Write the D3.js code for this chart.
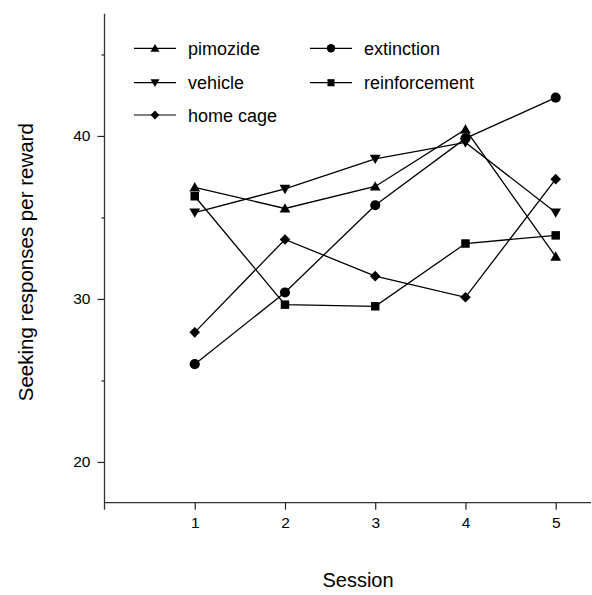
<!DOCTYPE html>
<html>
<head>
<meta charset="utf-8">
<script src="https://cdn.jsdelivr.net/npm/d3@7"></script>
<style>
  html, body { margin: 0; padding: 0; background: #fff; }
  svg { display: block; }
  text { font-family: Arial, "Liberation Sans", Helvetica, sans-serif; fill: #000; }
</style>
</head>
<body>
<script>
// ---- data ----
const sessions = [1, 2, 3, 4, 5];
const pimozide = [36.85, 35.55, 36.9, 40.4, 32.6];
const vehicle = [35.3, 36.75, 38.6, 39.6, 35.3];
const homeCage = [27.95, 33.65, 31.4, 30.1, 37.35];
const extinction = [26.0, 30.4, 35.75, 39.85, 42.35];
const reinforcement = [36.3, 29.65, 29.55, 33.4, 33.9];
const seriesNames = ["pimozide", "vehicle", "home cage", "extinction", "reinforcement"];
const yMajorTicks = [20, 30, 40];
const yMinorTicks = [25, 35, 45];
const xTitle = "Session";
const yTitle = "Seeking responses per reward";

const W = 592, H = 595;
const svg = d3.select("body").append("svg").attr("width", W).attr("height", H);

const x = d3.scaleLinear().domain([0, 5]).range([104.5, 555.7]);
const y = d3.scaleLinear().domain([17.5, 47.5]).range([502.7, 13.7]);

const shapes = {
  "pimozide": { type: d3.symbolTriangle, size: 50, rot: 0, dy: 1 },
  "vehicle": { type: d3.symbolTriangle, size: 50, rot: 180, dy: -1 },
  "home cage": { type: d3.symbolSquare, size: 56, rot: 45, dy: 0 },
  "extinction": { type: d3.symbolCircle, size: 80, rot: 0, dy: 0 },
  "reinforcement": { type: d3.symbolSquare, size: 72, rot: 0, dy: 0 }
};
const seriesData = {
  "pimozide": pimozide,
  "vehicle": vehicle,
  "home cage": homeCage,
  "extinction": extinction,
  "reinforcement": reinforcement
};

// ---- axes ----
const gy = svg.append("g").attr("transform", `translate(${x(0)},0)`);
gy.call(d3.axisLeft(y).tickValues(yMajorTicks).tickSize(7).tickPadding(7).tickFormat(d3.format("d")));
gy.select(".domain").remove();
gy.selectAll(".tick line").attr("stroke", "#222").attr("stroke-width", 1.2);
gy.selectAll(".tick text").style("font-size", "15.5px").attr("font-family", "Arial, 'Liberation Sans', sans-serif");
const gy2 = svg.append("g").attr("transform", `translate(${x(0)},0)`);
gy2.call(d3.axisLeft(y).tickValues(yMinorTicks).tickSize(3).tickFormat(""));
gy2.select(".domain").remove();
gy2.selectAll(".tick line").attr("stroke", "#222").attr("stroke-width", 1.2);

svg.append("line")
  .attr("x1", x(0)).attr("x2", x(0))
  .attr("y1", y(47.5)).attr("y2", y(17.5) + 7)
  .attr("stroke", "#333").attr("stroke-width", 1.3);

const gx = svg.append("g").attr("transform", `translate(0,${y(17.5)})`);
gx.call(d3.axisBottom(x).tickValues(sessions).tickSize(7).tickPadding(7).tickFormat(d3.format("d")));
gx.select(".domain").remove();
gx.selectAll(".tick line").attr("stroke", "#222").attr("stroke-width", 1.2);
gx.selectAll(".tick text").style("font-size", "15.5px").attr("font-family", "Arial, 'Liberation Sans', sans-serif");
svg.append("line")
  .attr("x1", x(0)).attr("x2", 591)
  .attr("y1", y(17.5)).attr("y2", y(17.5))
  .attr("stroke", "#333").attr("stroke-width", 1.3);

// titles
svg.append("text")
  .attr("x", 358).attr("y", 587)
  .attr("text-anchor", "middle")
  .style("font-size", "20px")
  .text(xTitle);
svg.append("text")
  .attr("transform", `translate(33,${(y(47.5) + y(17.5)) / 2 + 4}) rotate(-90)`)
  .attr("text-anchor", "middle")
  .style("font-size", "20.5px")
  .text(yTitle);

// ---- series ----
const line = d3.line().x((d, i) => x(sessions[i])).y(d => y(d));
seriesNames.forEach(name => {
  svg.append("path")
    .datum(seriesData[name])
    .attr("fill", "none")
    .attr("stroke", "#000")
    .attr("stroke-width", 1.3)
    .attr("d", line);
});
seriesNames.forEach(name => {
  const s = shapes[name];
  svg.append("g").selectAll("path")
    .data(seriesData[name])
    .join("path")
    .attr("d", d3.symbol().type(s.type).size(s.size))
    .attr("transform", (d, i) => `translate(${x(sessions[i])},${y(d) + s.dy}) rotate(${s.rot})`)
    .attr("fill", "#000");
});

// ---- legend ----
const legendItems = [
  { name: "pimozide", lx: 134, ly: 48.3 },
  { name: "vehicle", lx: 134, ly: 82.7 },
  { name: "home cage", lx: 134, ly: 115 },
  { name: "extinction", lx: 310, ly: 48.3 },
  { name: "reinforcement", lx: 310, ly: 82.7 }
];
const lg = svg.append("g");
legendItems.forEach(it => {
  const s = shapes[it.name];
  lg.append("line")
    .attr("x1", it.lx).attr("x2", it.lx + 42)
    .attr("y1", it.ly).attr("y2", it.ly)
    .attr("stroke", "#000").attr("stroke-width", 1.2);
  lg.append("path")
    .attr("d", d3.symbol().type(s.type).size(s.size * 0.7))
    .attr("transform", `translate(${it.lx + 21},${it.ly + s.dy * 0.8}) rotate(${s.rot})`)
    .attr("fill", "#000");
  lg.append("text")
    .attr("x", it.lx + 54).attr("y", it.ly + 6.5)
    .style("font-size", "18px")
    .text(it.name);
});
</script>
</body>
</html>
